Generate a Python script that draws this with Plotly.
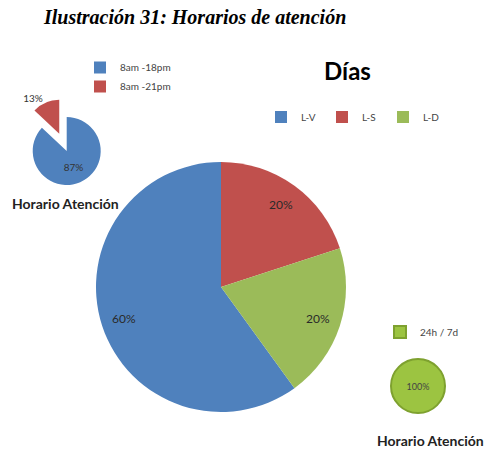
import math
import plotly.graph_objects as go

# ---- data ----
title_text = "Ilustración 31: Horarios de atención"
dias_title = "Días"
dias_labels = ["L-V", "L-S", "L-D"]
dias_values = [60, 20, 20]
horario_title = "Horario Atención"
horario_labels = ["8am -18pm", "8am -21pm"]
horario_values = [87, 13]
horario2_labels = ["24h / 7d"]
horario2_values = [100]

BLUE = "#4F81BD"
RED = "#C0504D"
GREEN = "#9BBB59"
GREEN_GLOSS = "#9cc441"
LABEL_FONT = "Lato, 'Open Sans', sans-serif"

W, H = 485, 450

def dom_x(cx, r):
    return [(cx - r) / W, (cx + r) / W]

def dom_y(cy, r):
    return [(H - cy - r) / H, (H - cy + r) / H]

# geometry (pixels)
BIG_CX, BIG_CY, BIG_R, BIG_ROT = 221, 287, 125, 144
SM_CX, SM_CY, SM_R, SM_PULL = 66.7, 151, 34, 0.55
GR_CX, GR_CY, GR_R = 418, 386, 27

fig = go.Figure()

# Big pie "Días"
fig.add_trace(go.Pie(
    labels=dias_labels, values=dias_values, sort=False,
    direction="clockwise", rotation=BIG_ROT,
    marker=dict(colors=[BLUE, RED, GREEN], line=dict(width=0)),
    textinfo="none",
    domain=dict(x=dom_x(BIG_CX, BIG_R), y=dom_y(BIG_CY, BIG_R)),
    legend="legend", hoverinfo="label+percent",
))

# Small pie top-left
fig.add_trace(go.Pie(
    labels=horario_labels, values=horario_values, sort=False,
    direction="clockwise", rotation=0,
    pull=[0, SM_PULL],
    marker=dict(colors=[BLUE, RED], line=dict(width=0)),
    texttemplate="%{percent:.0%}",
    textposition=["inside", "outside"], insidetextorientation="horizontal",
    textfont=dict(family=LABEL_FONT, size=10, color="#333333"),
    domain=dict(x=dom_x(SM_CX, SM_R * (1 + SM_PULL)), y=dom_y(SM_CY, SM_R * (1 + SM_PULL))),
    legend="legend2", hoverinfo="label+percent",
))

# Small pie bottom-right
fig.add_trace(go.Pie(
    labels=horario2_labels, values=horario2_values, sort=False,
    marker=dict(colors=[GREEN_GLOSS], line=dict(width=2, color="#7ea12f")),
    texttemplate="%{percent:.0%}",
    textposition="inside", insidetextorientation="horizontal",
    textfont=dict(family=LABEL_FONT, size=9, color="#444444"),
    domain=dict(x=dom_x(GR_CX, GR_R), y=dom_y(GR_CY, GR_R)),
    legend="legend3", hoverinfo="label+percent",
))

# percentage labels of the big pie, placed from the data along each slice's bisector
annotations = []
total = sum(dias_values)
cum = 0
for v in dias_values:
    mid = math.radians(BIG_ROT + (cum + v / 2) / total * 360)
    cum += v
    px = BIG_CX + 0.82 * BIG_R * math.sin(mid)
    py = BIG_CY - 0.82 * BIG_R * math.cos(mid)
    annotations.append(dict(
        text=f"{round(v / total * 100)}%", x=px / W, y=(H - py) / H,
        xref="paper", yref="paper", showarrow=False, xanchor="center", yanchor="middle",
        font=dict(family=LABEL_FONT, size=12, color="#2a2a2a")))

annotations += [
    dict(text="<b><i>" + title_text + "</i></b>", x=194 / W, y=(H - 17) / H,
         xref="paper", yref="paper", showarrow=False, xanchor="center", yanchor="middle",
         font=dict(family="'Liberation Serif', 'Times New Roman', serif", size=20, color="black")),
    dict(text="<b>" + dias_title + "</b>", x=347 / W, y=(H - 70) / H,
         xref="paper", yref="paper", showarrow=False, xanchor="center", yanchor="middle",
         font=dict(family=LABEL_FONT, size=24, color="black")),
    dict(text="<b>" + horario_title + "</b>", x=65 / W, y=(H - 203) / H,
         xref="paper", yref="paper", showarrow=False, xanchor="center", yanchor="middle",
         font=dict(family=LABEL_FONT, size=14, color="#222222")),
    dict(text="<b>" + horario_title + "</b>", x=430 / W, y=(H - 440) / H,
         xref="paper", yref="paper", showarrow=False, xanchor="center", yanchor="middle",
         font=dict(family=LABEL_FONT, size=14, color="#222222")),
]

legend_font = dict(family=LABEL_FONT, size=10, color="#444444")

fig.update_layout(
    width=W, height=H,
    margin=dict(l=0, r=0, t=0, b=0, autoexpand=False),
    paper_bgcolor="white", plot_bgcolor="white",
    legend=dict(orientation="h", x=261 / W, y=(H - 117) / H, xanchor="left", yanchor="middle",
                font=legend_font, entrywidth=16, bgcolor="rgba(0,0,0,0)"),
    legend2=dict(orientation="v", x=80 / W, y=(H - 77) / H, xanchor="left", yanchor="middle",
                 font=legend_font, bgcolor="rgba(0,0,0,0)"),
    legend3=dict(orientation="v", x=380 / W, y=(H - 332) / H, xanchor="left", yanchor="middle",
                 font=legend_font, bgcolor="rgba(0,0,0,0)"),
    annotations=annotations,
)

fig.write_html("out.html", config={"displayModeBar": False},
               post_script="document.body.style.margin='0';")
